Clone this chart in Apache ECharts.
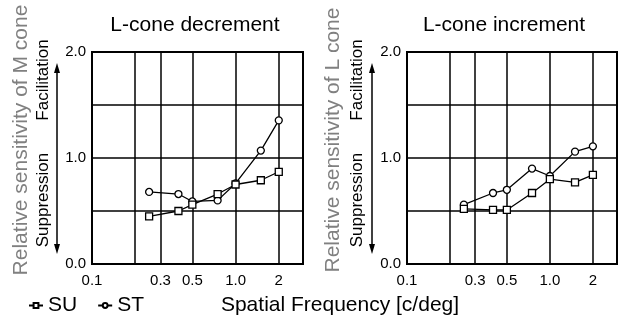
<!DOCTYPE html>
<html>
<head>
<meta charset="utf-8">
<script src="https://cdn.jsdelivr.net/npm/echarts@6/dist/echarts.min.js"></script>
<style>
  html, body { margin: 0; padding: 0; background: #fff; }
  #main { width: 618px; height: 317px; }
</style>
</head>
<body>
<div id="main"></div>
<script>
// spatial frequency (c/deg)
const freqs = [0.25, 0.4, 0.5, 0.75, 1.0, 1.5, 2.0];

// L-cone decrement
const decSU = [0.45, 0.50, 0.56, 0.66, 0.75, 0.79, 0.87];
const decST = [0.68, 0.66, 0.59, 0.60, 0.76, 1.07, 1.355];

// L-cone increment
const incSU = [0.52, 0.51, 0.51, 0.67, 0.80, 0.77, 0.84];
const incST = [0.56, 0.67, 0.70, 0.90, 0.83, 1.06, 1.11];

const xTickValues = [0.1, 0.3, 0.5, 1, 2];
const xTickLabels = ['0.1', '0.3', '0.5', '1.0', '2'];
const xGridValues = [0.2, 0.3, 0.5, 1, 2];
const yLabelValues = [0, 1, 2];

const FONT = 'Liberation Sans, Arial, sans-serif';

const chart = echarts.init(document.getElementById('main'));

function pairs(ys) {
  return freqs.map((f, i) => [f, ys[i]]);
}

function xAxisFor(gi) {
  return {
    type: 'log',
    logBase: 10,
    gridIndex: gi,
    min: 0.1,
    max: 2.95,
    axisLine: { show: true, lineStyle: { color: '#000', width: 2 } },
    axisTick: { show: false, customValues: xGridValues },
    splitLine: { show: true, lineStyle: { color: '#000', width: 1.5 } },
    axisLabel: {
      customValues: xTickValues,
      margin: 9,
      color: '#000',
      fontFamily: FONT,
      fontSize: 15,
      formatter: v => {
        let k = 0;
        xTickValues.forEach((t, i) => { if (Math.abs(t - v) < Math.abs(xTickValues[k] - v)) k = i; });
        return xTickLabels[k];
      }
    }
  };
}

function yAxisFor(gi) {
  return {
    type: 'value',
    gridIndex: gi,
    min: 0,
    max: 2,
    interval: 0.5,
    axisLine: { show: true, lineStyle: { color: '#000', width: 2 } },
    axisTick: { show: false },
    splitLine: { show: true, lineStyle: { color: '#000', width: 1.5 } },
    axisLabel: {
      customValues: yLabelValues,
      margin: 6,
      color: '#000',
      fontFamily: FONT,
      fontSize: 15,
      formatter: v => v.toFixed(1)
    }
  };
}

function lineSeries(name, symbol, data, gi) {
  return {
    name: name,
    type: 'line',
    xAxisIndex: gi,
    yAxisIndex: gi,
    data: pairs(data),
    symbol: symbol,
    symbolSize: 7,
    showAllSymbol: true,
    lineStyle: { color: '#000', width: 1.3 },
    itemStyle: { color: '#fff', borderColor: '#000', borderWidth: 1.3 },
    emphasis: { disabled: true },
    z: symbol === 'circle' ? 3 : 4
  };
}

function arrow(x, y1, y2) {
  return [
    { type: 'line', shape: { x1: x, y1: y1 + 6, x2: x, y2: y2 - 6 }, style: { stroke: '#000', lineWidth: 1.5 } },
    { type: 'polygon', shape: { points: [[x, y1], [x - 3, y1 + 10], [x + 3, y1 + 10]] }, style: { fill: '#000' } },
    { type: 'polygon', shape: { points: [[x, y2], [x - 3, y2 - 10], [x + 3, y2 - 10]] }, style: { fill: '#000' } }
  ];
}

function vtext(txt, x, y, size, color) {
  return {
    type: 'text',
    x: x, y: y,
    rotation: Math.PI / 2,
    style: { text: txt, align: 'center', verticalAlign: 'middle', fontFamily: FONT, fontSize: size, fill: color }
  };
}

function htext(txt, x, y, size) {
  return {
    type: 'text',
    x: x, y: y,
    style: { text: txt, align: 'center', verticalAlign: 'middle', fontFamily: FONT, fontSize: size, fill: '#000' }
  };
}

const option = {
  animation: false,
  backgroundColor: '#fff',
  grid: [
    { left: 92, top: 52, right: 315, bottom: 53, show: true, borderColor: '#000', borderWidth: 2 },
    { left: 407, top: 52, right: 1, bottom: 53, show: true, borderColor: '#000', borderWidth: 2 }
  ],
  xAxis: [xAxisFor(0), xAxisFor(1)],
  yAxis: [yAxisFor(0), yAxisFor(1)],
  legend: {
    left: 28,
    top: 295,
    padding: 0,
    itemWidth: 14,
    itemHeight: 6,
    itemGap: 20,
    textStyle: { fontFamily: FONT, fontSize: 21, color: '#000' },
    data: ['SU', 'ST']
  },
  series: [
    lineSeries('SU', 'rect', decSU, 0),
    lineSeries('ST', 'circle', decST, 0),
    lineSeries('SU', 'rect', incSU, 1),
    lineSeries('ST', 'circle', incST, 1)
  ],
  graphic: [
    htext('L-cone decrement', 195, 25, 21),
    htext('L-cone increment', 504, 25, 21),
    htext('Spatial Frequency [c/deg]', 340, 305, 21),
    vtext('Relative sensitivity of M cone', 21, 140, 21, '#808080'),
    vtext('Facilitation', 43, 80, 17, '#000'),
    vtext('Suppression', 43, 200, 17, '#000'),
    vtext('Relative sensitivity of L cone', 333, 140, 21, '#808080'),
    vtext('Facilitation', 357, 80, 17, '#000'),
    vtext('Suppression', 357, 200, 17, '#000')
  ].concat(arrow(57, 63, 254), arrow(372, 63, 254))
};

chart.setOption(option);
</script>
</body>
</html>
